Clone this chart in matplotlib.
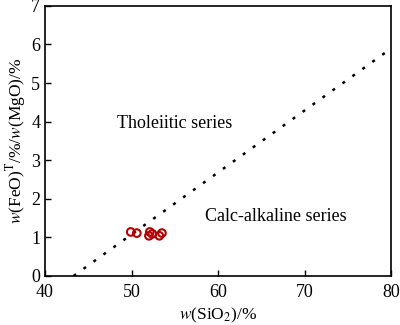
import matplotlib
matplotlib.use("Agg")
import matplotlib.pyplot as plt

plt.rcParams["font.family"] = ["Liberation Serif", "DejaVu Serif"]
plt.rcParams["mathtext.fontset"] = "stix"

# dividing line (tholeiitic / calc-alkaline)
line_x = [43.3, 80.0]
line_y = [0.0, 5.9]

# sample points
sio2 = [49.9, 50.6, 52.0, 52.1, 52.4, 53.2, 53.5]
fe_mg = [1.14, 1.11, 1.04, 1.14, 1.09, 1.04, 1.11]

fig = plt.figure(figsize=(4.0, 3.25), dpi=100)
ax = fig.add_axes([0.1125, 0.151, 0.866, 0.831])

ax.plot(line_x, line_y, color="black", linewidth=1.8, linestyle=(0, (1.2, 3.7)))
ax.scatter(sio2, fe_mg, s=30, facecolors="none", edgecolors="#b00000", linewidths=1.5, zorder=3)

ax.text(55, 3.95, "Tholeiitic series", fontsize=13, ha="center", va="center")
ax.text(66.6, 1.55, "Calc-alkaline series", fontsize=13, ha="center", va="center")

ax.set_xlim(40, 80)
ax.set_ylim(0, 7)
ax.set_xticks([40, 50, 60, 70, 80])
ax.set_yticks(range(0, 8))
ax.tick_params(direction="in", length=4, width=1.0, labelsize=13, top=False, right=False)
ax.tick_params(axis="x", pad=6)
for s in ax.spines.values():
    s.set_linewidth(1.2)

ax.set_xlabel(r"$\mathit{w}$(SiO$_2$)/%", fontsize=12.5, labelpad=3)
ax.set_ylabel(r"$\mathit{w}$(FeO)$^{\mathrm{T}}$/%/$\mathit{w}$(MgO)/%", fontsize=12.5, labelpad=2)

fig.savefig("out.png", dpi=100)
